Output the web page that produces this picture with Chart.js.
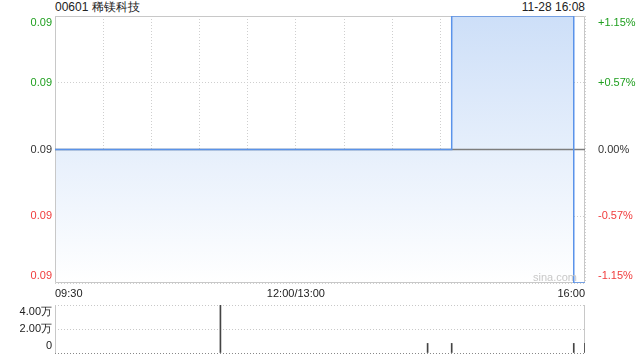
<!DOCTYPE html>
<html>
<head>
<meta charset="utf-8">
<script src="https://cdn.jsdelivr.net/npm/chart.js@4/dist/chart.umd.min.js"></script>
<style>
  body { margin: 0; background: #fff; font-family: "Liberation Sans", Arial, sans-serif; }
  #wrap { position: relative; width: 640px; height: 360px; overflow: hidden; }
  .txt { position: absolute; font-size: 12px; line-height: 14px; color: #222; white-space: nowrap; }
  #title { left: 55px; top: 0px; }
  #stamp { right: 55px; top: 0px; }
  #mark { left: 533px; top: 270px; font-size: 11px; color: #c8c8c8; }
  canvas { position: absolute; left: 0; }
</style>
</head>
<body>
<div id="wrap">
  <div class="txt" id="title">00601 稀镁科技</div>
  <div class="txt" id="stamp">11-28 16:08</div>
  <canvas id="priceChart" width="640" height="300" style="top:0"></canvas>
  <canvas id="volChart" width="640" height="60" style="top:300px"></canvas>
  <div class="txt" id="mark">sina.com</div>
</div>
<script>
// minutes counted from 09:30 in trading time (lunch break removed)
const prevClose = 0.087;
const priceTimes = [0, 247, 323, 330];
const prices = [0.087, 0.088, 0.086, 0.086];

const yTicks = [0.086, 0.0865, 0.087, 0.0875, 0.088];
const leftLabels = ["0.09", "0.09", "0.09", "0.09", "0.09"];
const rightLabels = ["-1.15%", "-0.57%", "0.00%", "+0.57%", "+1.15%"];

const xTicks = [0, 30, 60, 90, 120, 150, 180, 210, 240, 270, 300, 330];
const xLabels = { 0: "09:30", 150: "12:00/13:00", 330: "16:00" };

const volTimes = [103, 232, 247, 323, 330];
const volumes = [40000, 8000, 8000, 8000, 8000];
const volTicks = [0, 20000, 40000];
const volLabels = ["0", "2.00万", "4.00万"];

Chart.defaults.font.family = "'Liberation Sans', Arial, sans-serif";
Chart.defaults.font.size = 11;
Chart.defaults.animation = false;

function tickColor(v) {
    if (v > prevClose + 1e-9) return "#1f9f1f";
    if (v < prevClose - 1e-9) return "#f03c3c";
    return "#333";
}

// top / bottom labels sit inside the plot, like the original
function shiftLabel(txt, i, n) {
    if (i === n - 1) return ["", txt];
    if (i === 0) return [txt, ""];
    return txt;
}

// keep label overflow from pushing the plot area around
function fixY(s) {
    s.width = 55;
    s.paddingTop = 0;
    s.paddingBottom = 0;
}

const framePlugin = {
    id: "frame",
    beforeDatasetsDraw(chart, args, opts) {
        const a = chart.chartArea;
        const c = chart.ctx;
        c.save();
        c.strokeStyle = opts.color || "#c8c8c8";
        c.lineWidth = 1;
        c.beginPath();
        if (opts.full) {
            c.rect(a.left + 0.5, a.top + 0.5, a.right - a.left - 1, a.bottom - a.top - 1);
        } else {
            c.moveTo(a.left + 0.5, a.top); c.lineTo(a.left + 0.5, a.bottom);
            c.moveTo(a.right - 0.5, a.top); c.lineTo(a.right - 0.5, a.bottom);
        }
        c.stroke();
        c.restore();
    }
};

new Chart(document.getElementById("priceChart"), {
    type: "line",
    data: {
        datasets: [
            {
                label: "price",
                data: priceTimes.map((t, i) => ({ x: t, y: prices[i] })),
                stepped: true,
                borderColor: "#5a93ea",
                borderWidth: 1.5,
                pointRadius: 0,
                fill: "start",
                backgroundColor: function (ctx) {
                    const ca = ctx.chart.chartArea;
                    if (!ca) return "rgba(205,223,248,0.6)";
                    const g = ctx.chart.ctx.createLinearGradient(0, ca.top, 0, ca.bottom);
                    g.addColorStop(0, "#cddff8");
                    g.addColorStop(1, "#ffffff");
                    return g;
                },
                order: 0
            },
            {
                label: "prev",
                data: [{ x: 0, y: prevClose }, { x: 330, y: prevClose }],
                borderColor: "#7d7d7d",
                borderWidth: 1.5,
                pointRadius: 0,
                fill: false,
                order: 1
            }
        ]
    },
    options: {
        responsive: false,
        layout: { padding: { top: 16, left: 0, right: 0, bottom: 0 } },
        plugins: {
            legend: { display: false },
            tooltip: { enabled: false },
            filler: { drawTime: "beforeDatasetsDraw" },
            frame: { full: true, color: "#c8c8c8" }
        },
        scales: {
            x: {
                type: "linear",
                min: 0,
                max: 330,
                afterBuildTicks: s => { s.ticks = xTicks.map(v => ({ value: v })); },
                afterFit: s => { s.height = 17; s.paddingLeft = 0; s.paddingRight = 0; },
                ticks: {
                    autoSkip: false,
                    maxRotation: 0,
                    align: "inner",
                    padding: 4,
                    color: "#222",
                    callback: v => xLabels[v] || ""
                },
                grid: { color: "#cfcfcf", drawTicks: false },
                border: { display: false, dash: [1, 2] }
            },
            y: {
                position: "left",
                min: 0.086,
                max: 0.088,
                afterBuildTicks: s => { s.ticks = yTicks.map(v => ({ value: v })); },
                afterFit: fixY,
                ticks: {
                    autoSkip: false,
                    padding: 3,
                    color: c => tickColor(c.tick.value),
                    callback: (v, i) => shiftLabel(leftLabels[i], i, yTicks.length)
                },
                grid: { color: "#cfcfcf", drawTicks: false },
                border: { display: false, dash: [1, 2] }
            },
            y2: {
                position: "right",
                min: 0.086,
                max: 0.088,
                afterBuildTicks: s => { s.ticks = yTicks.map(v => ({ value: v })); },
                afterFit: fixY,
                ticks: {
                    autoSkip: false,
                    padding: 5,
                    color: c => tickColor(c.tick.value),
                    callback: (v, i) => shiftLabel(rightLabels[i], i, yTicks.length)
                },
                grid: { display: false },
                border: { display: false }
            }
        }
    },
    plugins: [framePlugin]
});

new Chart(document.getElementById("volChart"), {
    type: "bar",
    data: {
        datasets: [{
            label: "volume",
            data: volTimes.map((t, i) => ({ x: t, y: volumes[i] })),
            backgroundColor: "#444",
            barThickness: 1
        }]
    },
    options: {
        responsive: false,
        layout: { padding: { top: 5, left: 0, right: 55, bottom: 7 } },
        plugins: {
            legend: { display: false },
            tooltip: { enabled: false },
            frame: { full: false, color: "#c8c8c8" }
        },
        scales: {
            x: {
                type: "linear",
                min: 0,
                max: 330,
                offset: false,
                display: false
            },
            y: {
                min: 0,
                max: 40000,
                afterBuildTicks: s => { s.ticks = volTicks.map(v => ({ value: v })); },
                afterFit: fixY,
                ticks: {
                    autoSkip: false,
                    padding: 3,
                    color: "#222",
                    callback: (v, i) => shiftLabel(volLabels[i], i, volTicks.length)
                },
                grid: {
                    color: c => c.tick && c.tick.value === 0 ? "#888" : "#c8c8c8",
                    drawTicks: false
                },
                border: { display: false, dash: [1, 2] }
            }
        }
    },
    plugins: [framePlugin]
});
</script>
</body>
</html>
